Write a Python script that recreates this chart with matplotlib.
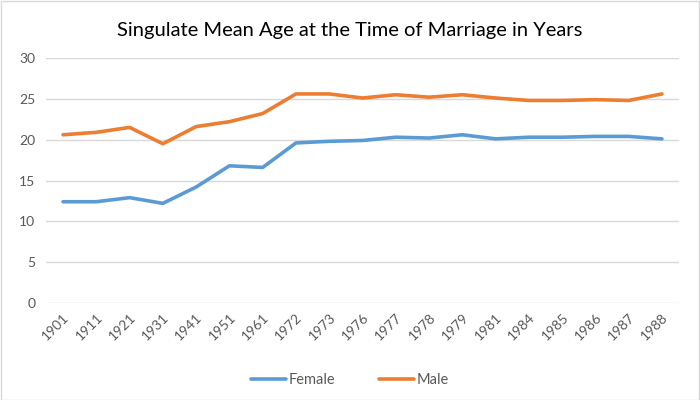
import matplotlib
matplotlib.use("Agg")
from matplotlib import pyplot as plt
from matplotlib.patches import Rectangle

years = ["1901", "1911", "1921", "1931", "1941", "1951", "1961", "1972", "1973",
         "1976", "1977", "1978", "1979", "1981", "1984", "1985", "1986", "1987", "1988"]
female = [12.4, 12.4, 12.9, 12.2, 14.2, 16.8, 16.6, 19.6, 19.8,
          19.9, 20.3, 20.2, 20.6, 20.1, 20.3, 20.3, 20.4, 20.4, 20.1]
male = [20.6, 20.9, 21.5, 19.5, 21.6, 22.2, 23.2, 25.6, 25.6,
        25.1, 25.5, 25.2, 25.5, 25.1, 24.8, 24.8, 24.9, 24.8, 25.6]

plt.rcParams['font.family'] = ['Lato', 'DejaVu Sans']

fig = plt.figure(figsize=(7, 4), dpi=100)
ax = fig.add_axes([0.0663, 0.2425, 0.9031, 0.6125])

x = range(len(years))
ax.plot(x, female, color='#5B9BD5', lw=2.6, label='Female', solid_capstyle='round')
ax.plot(x, male, color='#ED7D31', lw=2.6, label='Male', solid_capstyle='round')

ax.set_xlim(-0.5, len(years) - 0.5)
ax.set_ylim(0, 30)
ax.set_yticks(range(0, 31, 5))
ax.set_xticks(list(x))
ax.set_xticklabels(years, rotation=45, ha='right', rotation_mode='anchor')
ax.grid(axis='y', color='#d9d9d9', lw=1)
ax.set_axisbelow(True)
for s in ax.spines.values():
    s.set_visible(False)
ax.tick_params(length=0, colors='#595959', labelsize=10)
ax.tick_params(axis='x', pad=6)
ax.tick_params(axis='y', pad=8)

fig.suptitle("Singulate Mean Age at the Time of Marriage in Years",
             y=0.945, fontsize=14.5, color='#000000')

fig.legend(loc='center', bbox_to_anchor=(0.5, 0.05), ncol=2, frameon=False,
           fontsize=10.5, handlelength=2.4, columnspacing=3.0, handletextpad=0.2,
           labelcolor='#595959')

fig.patches.append(Rectangle((0.001, 0.001), 0.997, 0.997, transform=fig.transFigure,
                             fill=False, edgecolor='#d9d9d9', lw=1))

fig.savefig("out.png", dpi=100)
